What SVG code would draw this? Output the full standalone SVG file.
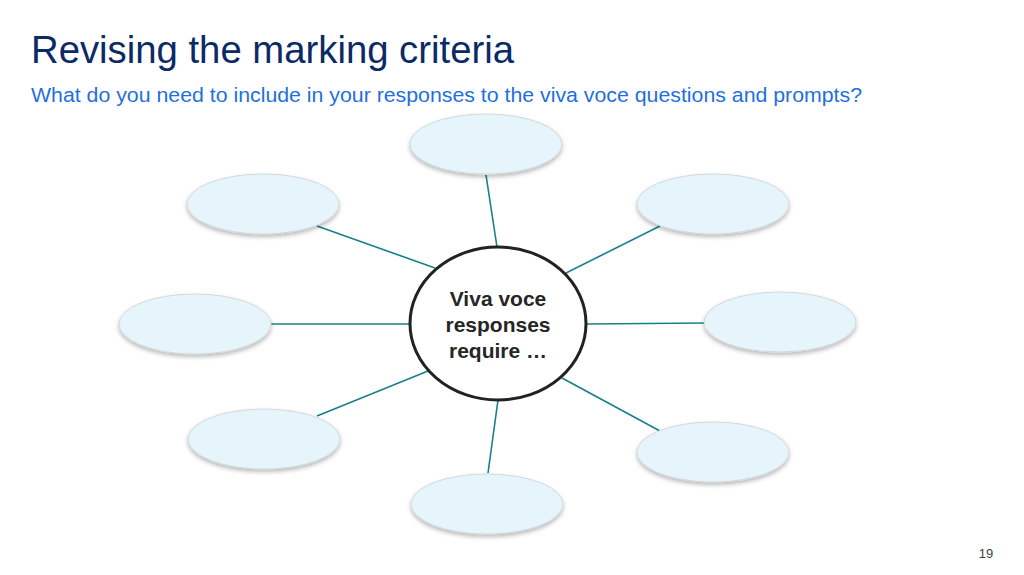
<svg xmlns="http://www.w3.org/2000/svg" width="1024" height="575" viewBox="0 0 1024 575">
<style>
.sat{fill:#e5f5fb;stroke:#d2d8dc;stroke-width:1;filter:url(#sh)}
.con{stroke:#17808a;stroke-width:1.6;fill:none}
.t{font-family:"Liberation Sans",Arial,sans-serif}
.c{font-size:21px;font-weight:bold;fill:#262626;text-anchor:middle}
</style>
<defs>
<filter id="sh" x="-20%" y="-30%" width="140%" height="170%">
<feDropShadow dx="0" dy="2.5" stdDeviation="2" flood-color="#000" flood-opacity="0.28"/>
</filter>
</defs>
<rect width="1024" height="575" fill="#fff"/>
<text class="t" x="31" y="63" font-size="38" fill="#0b2a66" textLength="483" lengthAdjust="spacingAndGlyphs">Revising the marking criteria</text>
<text class="t" x="31" y="102" font-size="20.5" fill="#1f6fe0" textLength="831" lengthAdjust="spacingAndGlyphs">What do you need to include in your responses to the viva voce questions and prompts?</text>
<g id="connectors">
<line class="con" x1="486" y1="175" x2="497" y2="247"/>
<line class="con" x1="317" y1="226" x2="435" y2="268"/>
<line class="con" x1="660" y1="226" x2="566" y2="273"/>
<line class="con" x1="271" y1="324" x2="409" y2="324"/>
<line class="con" x1="587" y1="324" x2="705" y2="323"/>
<line class="con" x1="317" y1="416" x2="428" y2="371"/>
<line class="con" x1="562" y1="378" x2="660" y2="431"/>
<line class="con" x1="498" y1="400" x2="488" y2="473"/>
</g>
<g id="n-top"><ellipse class="sat" cx="486" cy="144" rx="76" ry="30"/></g>
<g id="n-topleft"><ellipse class="sat" cx="263" cy="204" rx="76" ry="30"/></g>
<g id="n-topright"><ellipse class="sat" cx="713" cy="204" rx="76" ry="30"/></g>
<g id="n-left"><ellipse class="sat" cx="195" cy="324" rx="76" ry="30"/></g>
<g id="n-right"><ellipse class="sat" cx="780" cy="322" rx="76" ry="30"/></g>
<g id="n-bottomleft"><ellipse class="sat" cx="264" cy="439" rx="76" ry="30"/></g>
<g id="n-bottomright"><ellipse class="sat" cx="713" cy="452" rx="76" ry="30"/></g>
<g id="n-bottom"><ellipse class="sat" cx="487" cy="504" rx="76" ry="30"/></g>
<g id="n-center">
<ellipse cx="498" cy="323.5" rx="88" ry="76.5" fill="#fff" stroke="#222" stroke-width="3"/>
<text class="t c" x="498" y="306">Viva voce</text>
<text class="t c" x="498" y="332">responses</text>
<text class="t c" x="498" y="358">require …</text>
</g>
<text class="t" x="986" y="558" font-size="13" fill="#404040" text-anchor="middle">19</text>
</svg>
